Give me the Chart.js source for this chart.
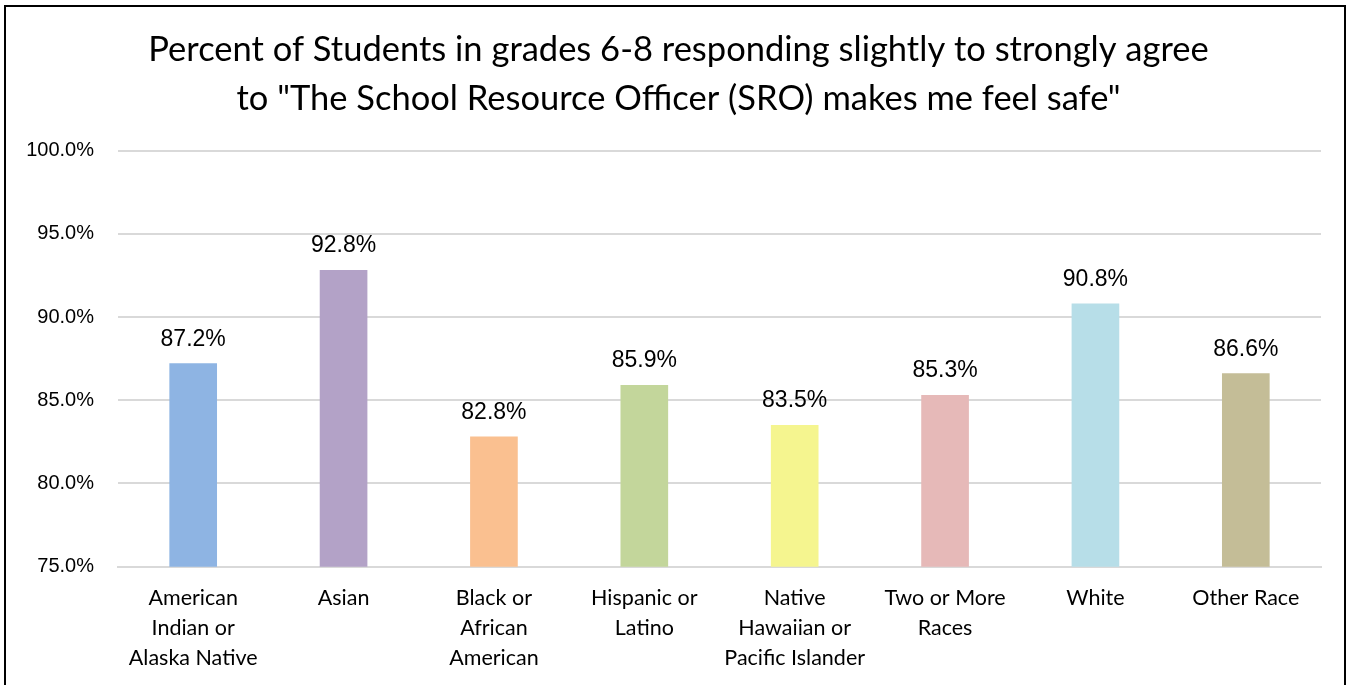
<!DOCTYPE html>
<html>
<head>
<meta charset="utf-8">
<script src="https://cdn.jsdelivr.net/npm/chart.js@4"></script>
<style>
    html, body { margin: 0; padding: 0; background: #fff; overflow: hidden; }
    #wrap { position: relative; width: 1351px; height: 685px; }
    #frame {
        position: absolute; left: 4px; top: 5px; width: 1338px; height: 720px;
        border: 2px solid #000; pointer-events: none;
    }
    canvas { position: absolute; left: 0; top: 0; }
</style>
</head>
<body>
<div id="wrap">
    <canvas id="sroChart" width="1351" height="700"></canvas>
    <div id="frame"></div>
</div>
<script>
// Survey results by race / ethnicity
const groups = [
    ['American', 'Indian or', 'Alaska Native'],
    'Asian',
    ['Black or', 'African', 'American'],
    ['Hispanic or', 'Latino'],
    ['Native', 'Hawaiian or', 'Pacific Islander'],
    ['Two or More', 'Races'],
    'White',
    'Other Race'
];
const percentAgree = [87.2, 92.8, 82.8, 85.9, 83.5, 85.3, 90.8, 86.6];
const barColors = ['#8EB4E3', '#B3A2C7', '#FAC090', '#C3D69B', '#F5F58F', '#E6B9B8', '#B7DEE8', '#C4BD97'];
const yTicks = [75, 80, 85, 90, 95, 100];

// Value labels above each bar
const valueLabels = {
    id: 'valueLabels',
    afterDatasetsDraw(chart) {
        const ctx = chart.ctx;
        const meta = chart.getDatasetMeta(0);
        ctx.save();
        ctx.font = '23px "Liberation Sans", Arial, sans-serif';
        ctx.fillStyle = '#000';
        ctx.textAlign = 'center';
        ctx.textBaseline = 'alphabetic';
        meta.data.forEach((bar, i) => {
            ctx.fillText(percentAgree[i].toFixed(1) + '%', bar.x, bar.y - 18);
        });
        ctx.restore();
    }
};

// let the y tick labels use the left padding instead of being clipped
const yLabelRoom = {
    id: 'yLabelRoom',
    afterLayout(chart) { chart.scales.y.left = 0; }
};

const ctx = document.getElementById('sroChart').getContext('2d');
new Chart(ctx, {
    type: 'bar',
    data: {
        labels: groups,
        datasets: [{
            data: percentAgree,
            backgroundColor: barColors,
            borderWidth: 0,
            barThickness: 47
        }]
    },
    plugins: [valueLabels, yLabelRoom],
    options: {
        responsive: false,
        animation: false,
        layout: { padding: { left: 36, right: 30, top: 0, bottom: 19 } },
        plugins: {
            legend: { display: false },
            tooltip: { enabled: false },
            title: {
                display: true,
                text: ['Percent of Students in grades 6-8 responding slightly to strongly agree',
                       'to "The School Resource Officer (SRO) makes me feel safe"'],
                color: '#000',
                font: { family: 'Lato, "Open Sans", sans-serif', size: 34.5, weight: 'normal', lineHeight: 1.4 },
                padding: { top: 26, bottom: 28 }
            }
        },
        scales: {
            x: {
                grid: { display: false },
                border: { color: '#D9D9D9', width: 2 },
                ticks: {
                    color: '#000',
                    maxRotation: 0,
                    autoSkip: false,
                    padding: 8,
                    font: { family: 'Lato, "Open Sans", sans-serif', size: 21.5, lineHeight: 1.4 }
                }
            },
            y: {
                min: 75,
                max: 100,
                afterFit(scale) { scale.width = 82; },
                afterBuildTicks(scale) { scale.ticks = yTicks.map(v => ({ value: v })); },
                grid: { color: '#D9D9D9', lineWidth: 2, drawTicks: false },
                border: { display: false },
                ticks: {
                    color: '#000',
                    padding: 24,
                    font: { family: '"Liberation Sans", Arial, sans-serif', size: 20 },
                    callback: v => v.toFixed(1) + '%'
                }
            }
        }
    }
});
</script>
</body>
</html>
